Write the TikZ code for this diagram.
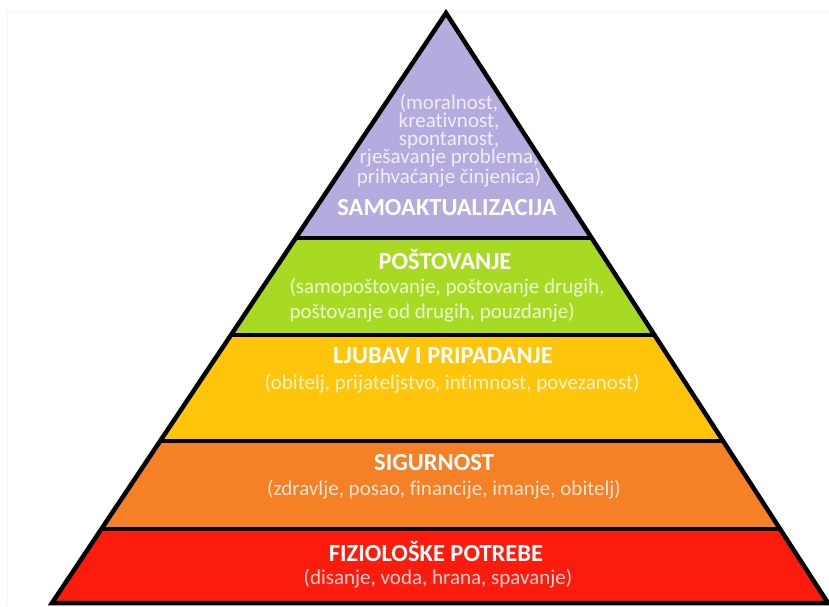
\documentclass[tikz,border=0pt]{standalone}
\usepackage{fontspec}
\setmainfont[Ligatures=NoCommon]{Carlito}
\usepackage{tikz}

\definecolor{ljubicasta}{RGB}{181,171,222}
\definecolor{zelena}{RGB}{168,218,35}
\definecolor{zuta}{RGB}{255,197,10}
\definecolor{narancasta}{RGB}{245,128,37}
\definecolor{crvena}{RGB}{252,28,14}

\tikzset{
	naslov/.style={text=white, font=\bfseries\fontsize{24.5}{28}\selectfont, inner sep=0pt},
	opis/.style={text=white, text opacity=.8, font=\fontsize{21}{25}\selectfont, inner sep=0pt},
	rub/.style={line width=4.5pt}
}

\begin{document}
\begin{tikzpicture}[x=1pt,y=-1pt]
	\useasboundingbox (0,0) rectangle (829,606);
	\draw[black!4] (7,606) -- (7,11) -- (829,11);

	\coordinate (vrh) at (446,13);
	\coordinate (dl) at (52,603);
	\coordinate (dd) at (828,603);

	\begin{scope}
		\clip (vrh) -- (dl) -- (dd) -- cycle;
		\fill[ljubicasta] (0,0) rectangle (829,238);
		\fill[zelena] (0,238) rectangle (829,335);
		\fill[zuta] (0,335) rectangle (829,441);
		\fill[narancasta] (0,441) rectangle (829,529);
		\fill[crvena] (0,529) rectangle (829,606);
		\foreach \y in {238,335,441,529}
			\draw[rub] (0,\y) -- (829,\y);
	\end{scope}
	\draw[rub, line join=miter] (vrh) -- (dl) -- (dd) -- cycle;

	% samoaktualizacija
	\node[opis, align=center, font=\fontsize{21}{17.6}\selectfont] (opis5) at (449,141)
		{(moralnost,\\kreativnost,\\spontanost,\\rješavanje problema,\\prihvaćanje činjenica)};
	\node[naslov] (naslov5) at (447,208) {SAMOAKTUALIZACIJA};

	% postovanje
	\node[naslov] (naslov4) at (445,260) {POŠTOVANJE};
	\node[opis, align=left] (opis4) at (447,300)
		{(samopoštovanje, poštovanje drugih,\\poštovanje od drugih, pouzdanje)};

	% ljubav
	\node[naslov] (naslov3) at (443,356) {LJUBAV I PRIPADANJE};
	\node[opis] (opis3) at (452,384) {(obitelj, prijateljstvo, intimnost, povezanost)};

	% sigurnost
	\node[naslov] (naslov2) at (434,463) {SIGURNOST};
	\node[opis] (opis2) at (444,490) {(zdravlje, posao, financije, imanje, obitelj)};

	% fizioloske potrebe
	\node[naslov] (naslov1) at (436,551) {FIZIOLOŠKE POTREBE};
	\node[opis] (opis1) at (438,579) {(disanje, voda, hrana, spavanje)};
\end{tikzpicture}
\end{document}
